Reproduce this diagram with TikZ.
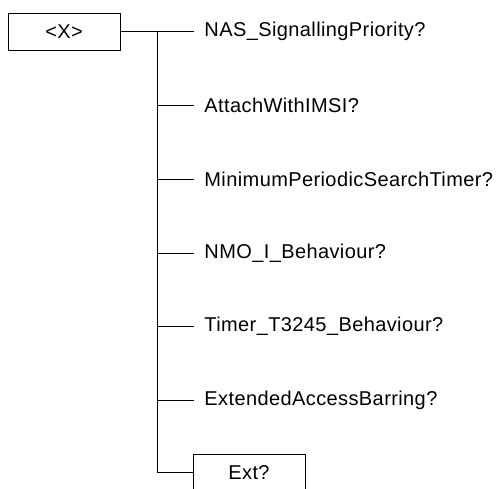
\documentclass[tikz,border=0pt]{standalone}
\usepackage{fontspec}
\setmainfont{Liberation Sans}[LetterSpace=2]
\begin{document}
\begin{tikzpicture}[x=1pt,y=-1pt,line width=0.9pt,
  every node/.style={font=\fontsize{20}{22}\selectfont},
  boxnode/.style={draw,minimum width=112pt,minimum height=37pt,inner sep=0pt},
  lbl/.style={anchor=west,inner sep=0pt}]
\useasboundingbox (0,0) rectangle (496,489);
\clip (0,0) rectangle (496,489);
\node[boxnode] (X) at (64,31.5) {<X>};
\coordinate (top) at (157,31.5);
\coordinate (bot) at (157,472.5);
\draw (X.east) -- (top);
\draw (top) -- (bot);
\foreach \i/\y/\t in {0/31.5/NAS\_SignallingPriority?,1/105/AttachWithIMSI?,2/179/MinimumPeriodicSearchTimer?,3/253/NMO\_I\_Behaviour?,4/326.5/Timer\_T3245\_Behaviour?,5/400/ExtendedAccessBarring?}{
  \coordinate (j\i) at (157,\y);
  \coordinate (e\i) at (194,\y);
  \node[lbl] (l\i) at (204,\y) {\t};
  \draw (j\i) -- (e\i);
}
\node[boxnode] (ext) at (249,472.5) {Ext?};
\draw (bot) -- (ext.west);
\end{tikzpicture}
\end{document}
